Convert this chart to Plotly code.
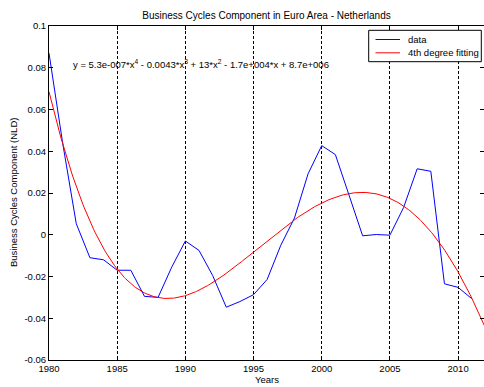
import numpy as np
import plotly.graph_objects as go

# Business cycle component of GDP, Netherlands (yearly)
years = list(range(1980, 2012))
cycle = [0.087, 0.044, 0.0053, -0.011, -0.012, -0.017, -0.017, -0.0295,
         -0.030, -0.0155, -0.003, -0.0075, -0.0195, -0.0347, -0.032, -0.0287,
         -0.0214, -0.005, 0.008, 0.0292, 0.0427, 0.0384, 0.019, -0.0005,
         0.0001, -0.0002, 0.013, 0.0316, 0.0304, -0.0235, -0.0252, -0.0306]

x_ticks = [1980, 1985, 1990, 1995, 2000, 2005, 2010]
y_ticks = [0.1, 0.08, 0.06, 0.04, 0.02, 0, -0.02, -0.04, -0.06]
y_tick_text = ["0.1", "0.08", "0.06", "0.04", "0.02", "0", "-0.02", "-0.04", "-0.06"]

series_names = ["data", "4th degree fitting"]
series_colors = ["#0000ff", "#ff0000"]

equation = ("y = 5.3e-007*x<sup>4</sup> - 0.0043*x<sup>3</sup> + 13*x<sup>2</sup>"
            " - 1.7e+004*x + 8.7e+006")

# 4th degree polynomial fit (centred x for numerical stability)
xa = np.array(years, dtype=float)
ya = np.array(cycle)
x0 = xa.mean()
coef = np.polyfit(xa - x0, ya, 4)
xf = np.linspace(1980, 2012, 400)
yf = np.polyval(coef, xf - x0)

FONT = "Liberation Sans, Arial, Helvetica, sans-serif"
W, H = 484, 387
ML, MR, MT, MB = 49, 0, 26, 27
PW, PH = W - ML - MR, H - MT - MB


def px(xpix):
    return (xpix - ML) / PW


def py(ypix):
    return (H - MB - ypix) / PH


fig = go.Figure()
fig.add_trace(go.Scatter(x=years, y=cycle, mode="lines", name=series_names[0],
                         line=dict(color=series_colors[0], width=1)))
fig.add_trace(go.Scatter(x=xf, y=yf, mode="lines", name=series_names[1],
                         line=dict(color=series_colors[1], width=1)))

fig.update_layout(
    width=W, height=H,
    margin=dict(l=ML, r=MR, t=MT, b=MB),
    paper_bgcolor="white", plot_bgcolor="white",
    font=dict(family=FONT, size=9.5, color="black"),
    title=dict(text="Business Cycles Component in Euro Area - Netherlands",
               x=0.5, xref="paper", xanchor="center",
               y=1 - 15 / H, yref="container", yanchor="middle",
               font=dict(size=10, family=FONT, color="black")),
    showlegend=False,
)

fig.update_xaxes(
    range=[1980, 2011.9], tickvals=x_ticks,
    showline=True, linecolor="black", linewidth=1, mirror="ticks",
    ticks="inside", ticklen=4, tickcolor="black",
    showgrid=True, gridcolor="black", gridwidth=1, griddash="3px,2px",
    zeroline=False,
)
fig.update_yaxes(
    range=[-0.06, 0.1], tickvals=y_ticks, ticktext=y_tick_text,
    showline=True, linecolor="black", linewidth=1, mirror="ticks",
    ticks="inside", ticklen=4, tickcolor="black",
    showgrid=False, zeroline=False,
)

# Legend box (boxed key in the upper right corner)
fig.add_shape(type="rect", xref="paper", yref="paper",
              x0=px(368.7), x1=px(481.3), y0=py(61.7), y1=py(30.3),
              line=dict(color="black", width=1), fillcolor="white", layer="above")
for i, (name, color) in enumerate(zip(series_names, series_colors)):
    yy = 39.5 + 13.3 * i
    fig.add_shape(type="line", xref="paper", yref="paper",
                  x0=px(375.5), x1=px(400), y0=py(yy), y1=py(yy),
                  line=dict(color=color, width=1), layer="above")
    fig.add_annotation(text=name, x=px(406), y=py(yy), xref="paper", yref="paper",
                       xanchor="left", yanchor="middle", showarrow=False,
                       font=dict(size=9.5, family=FONT))

fig.add_annotation(text=equation, x=1981.6, y=0.082, xref="x", yref="y",
                   xanchor="left", yanchor="middle", showarrow=False,
                   font=dict(size=9.5, family=FONT))
fig.add_annotation(text="Years", x=0.5, y=py(379), xref="paper", yref="paper",
                   xanchor="center", yanchor="middle", showarrow=False,
                   font=dict(size=9.5, family=FONT))
fig.add_annotation(text="Business Cycles Component (NLD)", x=px(13), y=0.5,
                   xref="paper", yref="paper", xanchor="center", yanchor="middle",
                   textangle=-90, showarrow=False,
                   font=dict(size=9.5, family=FONT))

fig.write_html("out.html")
